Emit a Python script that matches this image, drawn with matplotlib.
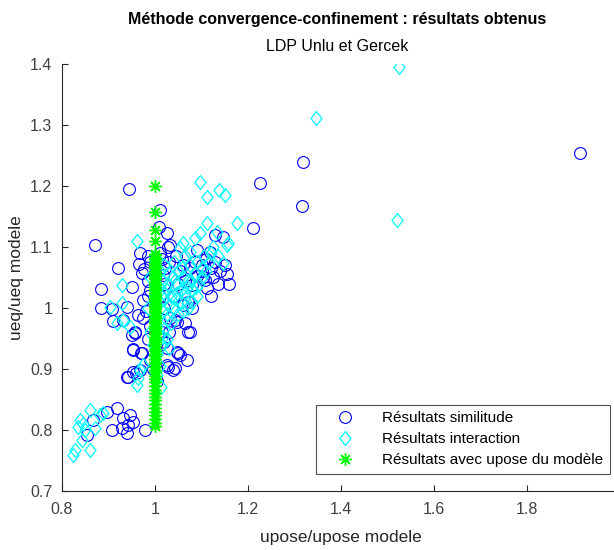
import matplotlib
matplotlib.use("Agg")
import matplotlib.pyplot as plt
from matplotlib.path import Path

# ---- data ----
sim_x = [1.914, 1.318, 1.316, 1.226, 1.211, 1.011, 0.944, 0.871, 1.009, 1.026,
         1.146, 1.028, 0.968, 1.090, 1.118, 0.920, 0.884, 0.950, 0.884, 0.908,
         0.910, 0.931, 0.957, 0.950, 0.953, 0.970, 1.047, 1.054, 1.069, 1.047,
         1.065, 1.071, 1.032, 0.974, 0.972, 0.976, 0.966, 0.980, 1.021, 1.017,
         1.054, 1.080, 1.090, 1.108, 1.112, 1.101, 1.110, 1.026, 1.039, 0.940,
         0.959, 0.968, 0.918, 0.897, 0.867, 0.854, 0.908, 0.929, 0.940, 0.931,
         0.946, 0.953, 0.942, 0.978, 1.032, 1.129, 1.103, 1.071, 0.940, 0.963,
         0.974, 0.957, 0.953, 0.972, 0.942, 0.953, 1.043, 1.075, 1.049, 1.043,
         1.028, 0.985, 0.990, 0.985, 0.990, 0.985, 0.990, 0.985, 0.990, 0.995,
         1.010, 1.015, 1.020, 1.010, 1.020, 1.015, 1.010, 1.025, 1.005, 1.030,
         1.045, 1.060, 1.075, 1.050, 1.065, 1.085, 1.100, 1.120, 1.130, 1.140,
         1.125, 1.135, 1.120, 1.040, 1.060, 1.080, 1.030, 1.020, 1.150, 1.155,
         1.160]
sim_y = [1.254, 1.239, 1.167, 1.205, 1.131, 1.161, 1.195, 1.103, 1.133, 1.123,
         1.117, 1.100, 1.090, 1.095, 1.092, 1.066, 1.031, 1.034, 1.000, 0.998,
         0.979, 0.980, 0.961, 0.956, 0.933, 0.926, 0.928, 0.923, 0.915, 0.977,
         0.975, 0.961, 0.984, 1.013, 1.057, 1.064, 1.072, 0.995, 1.066, 1.054,
         1.061, 1.038, 1.053, 1.046, 1.033, 1.070, 1.080, 0.907, 0.898, 0.887,
         0.893, 0.898, 0.836, 0.830, 0.816, 0.792, 0.800, 0.803, 0.795, 0.820,
         0.825, 0.813, 0.808, 0.800, 1.103, 1.120, 1.051, 1.010, 1.002, 0.989,
         0.984, 0.959, 0.931, 0.926, 0.887, 0.895, 0.980, 0.961, 0.926, 0.902,
         0.903, 1.085, 1.075, 1.045, 1.030, 1.020, 0.970, 0.950, 0.915, 0.900,
         1.090, 1.080, 1.040, 1.020, 1.000, 0.960, 0.940, 0.935, 0.880, 1.075,
         1.085, 1.070, 1.065, 1.040, 1.045, 1.075, 1.060, 1.065, 1.075, 1.060,
         1.050, 1.040, 1.020, 1.020, 1.005, 1.000, 0.960, 0.945, 1.070, 1.055,
         1.040]

int_x = [1.525, 1.346, 1.520, 1.097, 1.112, 1.138, 1.151, 1.176, 1.112, 1.086,
         1.133, 1.155, 1.146, 0.961, 1.054, 1.075, 1.097, 1.060, 1.157, 0.929,
         0.903, 0.929, 0.918, 0.946, 0.961, 0.974, 0.931, 0.963, 0.968, 1.017,
         1.026, 1.069, 0.860, 0.839, 0.882, 0.888, 0.834, 0.843, 0.828, 0.824,
         0.860, 0.871, 0.850, 0.845,
         1.005, 1.010, 1.015, 1.020, 1.025, 1.030, 1.035, 1.040, 1.045, 1.050,
         1.055, 1.060, 1.065, 1.070, 1.075, 1.080, 1.085, 1.090, 1.095, 1.100,
         1.105, 1.010, 1.015, 1.020, 1.025, 1.030, 1.035, 1.040, 1.045, 1.050,
         1.055, 1.060, 1.065, 1.070, 1.080, 1.090, 1.005, 1.010, 1.015, 1.020,
         1.025, 1.030, 1.005, 1.010, 1.005, 1.012, 1.008, 1.018, 1.028, 1.038,
         1.048, 1.058, 1.068, 1.078, 1.088, 1.100, 1.110, 1.120, 1.125, 1.135,
         1.115, 0.990, 0.985, 0.990, 0.995]
int_y = [1.395, 1.311, 1.144, 1.207, 1.182, 1.193, 1.185, 1.139, 1.139, 1.115,
         1.125, 1.103, 1.074, 1.110, 1.098, 1.092, 1.123, 1.107, 1.107, 1.038,
         1.002, 1.008, 0.975, 0.969, 0.874, 0.907, 0.980, 0.885, 0.898, 0.952,
         0.980, 1.008, 0.833, 0.816, 0.825, 0.828, 0.805, 0.784, 0.767, 0.759,
         0.767, 0.803, 0.800, 0.810,
         1.080, 1.060, 1.045, 1.070, 1.030, 1.055, 1.020, 1.075, 1.040, 1.060,
         1.030, 1.050, 1.085, 1.045, 1.070, 1.030, 1.055, 1.075, 1.040, 1.065,
         1.085, 1.010, 0.995, 1.015, 0.990, 1.005, 0.975, 1.000, 1.015, 0.990,
         1.010, 0.995, 1.025, 1.000, 1.010, 1.020, 0.970, 0.955, 0.940, 0.965,
         0.950, 0.935, 0.925, 0.905, 0.890, 0.870, 1.035, 1.025, 1.040, 1.050,
         1.025, 1.065, 1.035, 1.045, 1.035, 1.050, 1.060, 1.090, 1.100, 1.085,
         1.075, 1.050, 1.000, 0.960, 0.940]

mod_y = [1.200, 1.157, 1.128, 1.110, 1.089, 1.086, 1.082, 1.080, 1.077, 1.073,
         1.071, 1.067, 1.065, 1.061, 1.058, 1.056, 1.052, 1.049, 1.047, 1.043,
         1.040, 1.038, 1.034, 1.031, 1.029, 1.025, 1.022, 1.020, 1.016, 1.013,
         1.011, 1.007, 1.004, 1.002, 0.998, 0.995, 0.993, 0.989, 0.986, 0.984,
         0.980, 0.977, 0.975, 0.971, 0.968, 0.966, 0.962, 0.959, 0.957, 0.953,
         0.950, 0.948, 0.944, 0.941, 0.937, 0.933, 0.929, 0.925, 0.921, 0.917,
         0.912, 0.908, 0.904, 0.899, 0.895, 0.889, 0.884, 0.879, 0.872, 0.866,
         0.861, 0.854, 0.849, 0.842, 0.837, 0.830, 0.824, 0.819, 0.812, 0.806]
mod_x = [1.0] * len(mod_y)

title_txt = "Méthode convergence-confinement : résultats obtenus"
subtitle_txt = "LDP Unlu et Gercek"
xlabel_txt = "upose/upose modele"
ylabel_txt = "ueq/ueq modele"
legend_labels = ["Résultats similitude", "Résultats interaction",
                 "Résultats avec upose du modèle"]
xticks = [0.8, 1.0, 1.2, 1.4, 1.6, 1.8]
xtick_labels = ["0.8", "1", "1.2", "1.4", "1.6", "1.8"]
yticks = [0.7, 0.8, 0.9, 1.0, 1.1, 1.2, 1.3, 1.4]
ytick_labels = ["0.7", "0.8", "0.9", "1", "1.1", "1.2", "1.3", "1.4"]

# ---- plot ----
plt.rcParams['font.family'] = ['Liberation Sans', 'DejaVu Sans']
fig = plt.figure(figsize=(6.14, 5.5), dpi=100)
ax = fig.add_axes([0.101, 0.107, 0.909, 0.777])

diamond = Path([(0, 1), (0.8, 0), (0, -1), (-0.8, 0), (0, 1)],
               [Path.MOVETO, Path.LINETO, Path.LINETO, Path.LINETO, Path.CLOSEPOLY])

ax.plot(sim_x, sim_y, linestyle='none', marker='o', markersize=8.5,
        markerfacecolor='none', markeredgecolor=(0, 0, 1), markeredgewidth=0.8,
        label=legend_labels[0])
ax.plot(int_x, int_y, linestyle='none', marker=diamond, markersize=10,
        markerfacecolor='none', markeredgecolor=(0, 1, 1), markeredgewidth=0.9,
        label=legend_labels[1])
ax.plot(mod_x, mod_y, linestyle='none', marker=(8, 2, 0), markersize=9,
        markerfacecolor='none', markeredgecolor=(0, 1, 0), markeredgewidth=1.0,
        label=legend_labels[2])

ax.set_xlim(0.8, 2.0)
ax.set_ylim(0.7, 1.4)
ax.set_xticks(xticks)
ax.set_xticklabels(xtick_labels)
ax.set_yticks(yticks)
ax.set_yticklabels(ytick_labels)
ax.spines['top'].set_visible(False)
ax.spines['right'].set_visible(False)
for s in ('left', 'bottom'):
    ax.spines[s].set_color('#262626')
    ax.spines[s].set_linewidth(0.8)
ax.tick_params(direction='in', length=4, width=0.8, colors='#262626',
               labelsize=11.5, labelcolor='#404040')
ax.tick_params(axis='x', pad=8)
ax.tick_params(axis='y', pad=7)
ax.set_xlabel(xlabel_txt, fontsize=12.5, color='#262626', labelpad=9)
ax.set_ylabel(ylabel_txt, fontsize=12.5, color='#262626', labelpad=4)

fig.text(0.549, 0.965, title_txt, ha='center', va='center', fontsize=11.5,
         fontweight='bold', color='black')
fig.text(0.549, 0.915, subtitle_txt, ha='center', va='center', fontsize=11.5,
         color='black')

leg = ax.legend(loc='lower right', bbox_to_anchor=(0.982, 0.04),
                borderaxespad=0, fontsize=11, frameon=True, fancybox=False,
                edgecolor='#262626', handletextpad=1.0, borderpad=0.45,
                labelspacing=0.45, handlelength=2.9)
leg.get_frame().set_linewidth(0.8)

fig.savefig("out.png", dpi=100)
